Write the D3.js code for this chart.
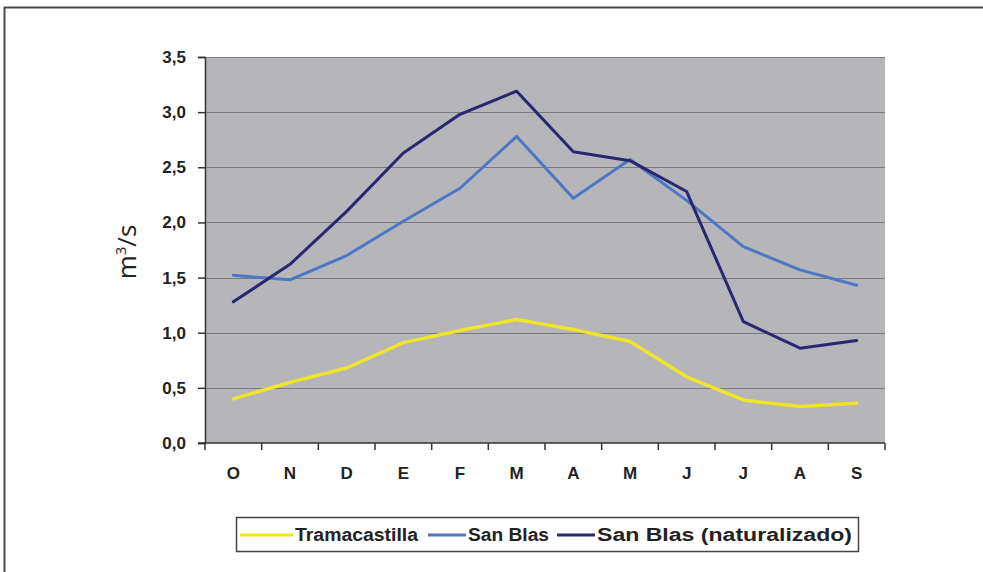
<!DOCTYPE html>
<html>
<head>
<meta charset="utf-8">
<script src="https://cdn.jsdelivr.net/npm/d3@7"></script>
<style>
  html, body { margin: 0; padding: 0; background: #fff; }
  svg { display: block; }
</style>
</head>
<body>
<svg id="chart" width="983" height="572"></svg>
<script>
// Hydrological-year months (October to September)
const months = ["O", "N", "D", "E", "F", "M", "A", "M", "J", "J", "A", "S"];
// Mean monthly flow, m³/s
const tramacastilla = [0.40, 0.55, 0.68, 0.91, 1.02, 1.12, 1.03, 0.92, 0.60, 0.39, 0.33, 0.36];
const sanBlas = [1.52, 1.48, 1.70, 2.01, 2.31, 2.78, 2.22, 2.57, 2.20, 1.78, 1.57, 1.43];
const sanBlasNat = [1.28, 1.62, 2.10, 2.63, 2.98, 3.19, 2.64, 2.56, 2.28, 1.10, 0.86, 0.93];
const seriesNames = ["Tramacastilla", "San Blas", "San Blas (naturalizado)"];
const yTicks = [0, 0.5, 1, 1.5, 2, 2.5, 3, 3.5];

const series = [
  { name: seriesNames[0], values: tramacastilla, color: "#efe62c" },
  { name: seriesNames[1], values: sanBlas, color: "#4e76c2" },
  { name: seriesNames[2], values: sanBlasNat, color: "#29276e" }
];

const svg = d3.select("#chart");
const plot = { left: 205, right: 885, top: 57, bottom: 443 };
const labelFont = "Liberation Sans, Arial, sans-serif";

// Frame along the top and left edges
svg.append("line").attr("x1", 4).attr("x2", 983).attr("y1", 7.5).attr("y2", 7.5)
  .attr("stroke", "#4a4a4a").attr("stroke-width", 2);
svg.append("line").attr("x1", 4.5).attr("x2", 4.5).attr("y1", 7).attr("y2", 572)
  .attr("stroke", "#4a4a4a").attr("stroke-width", 2);

const x = d3.scaleBand().domain(d3.range(months.length)).range([plot.left, plot.right]);
const y = d3.scaleLinear().domain([0, 3.5]).range([plot.bottom, plot.top]);

// Plot background
svg.append("rect")
  .attr("x", plot.left).attr("y", plot.top)
  .attr("width", plot.right - plot.left).attr("height", plot.bottom - plot.top)
  .attr("fill", "#b6b6ba");

// Horizontal gridlines
svg.append("g").selectAll("line").data(yTicks.slice(1)).join("line")
  .attr("x1", plot.left).attr("x2", plot.right)
  .attr("y1", d => Math.round(y(d)) + 0.5).attr("y2", d => Math.round(y(d)) + 0.5)
  .attr("stroke", "#7c7c80").attr("stroke-width", 1.2);

// Y axis
const fmt = d => d.toFixed(1).replace(".", ",");
const yAxis = svg.append("g").attr("transform", `translate(${plot.left},0)`)
  .call(d3.axisLeft(y).tickValues(yTicks).tickFormat(fmt).tickSize(7).tickPadding(12));
yAxis.select(".domain").attr("stroke", "#333").attr("stroke-width", 1.5);
yAxis.selectAll(".tick line").attr("stroke", "#333").attr("stroke-width", 1.5);
yAxis.selectAll("text")
  .attr("font-family", labelFont)
  .attr("font-size", 17).attr("font-weight", "bold").attr("fill", "#222");

// X axis: ticks on band boundaries, labels centred in bands
const xAxisG = svg.append("g");
xAxisG.append("line").attr("x1", plot.left - 7).attr("x2", plot.right)
  .attr("y1", plot.bottom).attr("y2", plot.bottom)
  .attr("stroke", "#333").attr("stroke-width", 1.5);
xAxisG.selectAll("line.tk").data(d3.range(months.length + 1)).join("line")
  .attr("class", "tk")
  .attr("x1", i => plot.left + i * x.step()).attr("x2", i => plot.left + i * x.step())
  .attr("y1", plot.bottom).attr("y2", plot.bottom + 7)
  .attr("stroke", "#333").attr("stroke-width", 1.5);
xAxisG.selectAll("text").data(months).join("text")
  .attr("x", (d, i) => x(i) + x.bandwidth() / 2)
  .attr("y", 479)
  .attr("text-anchor", "middle")
  .attr("font-family", labelFont)
  .attr("font-size", 17).attr("font-weight", "bold").attr("fill", "#222")
  .text(d => d);

// Y axis title
svg.append("text")
  .attr("transform", "translate(136,252) rotate(-90)")
  .attr("text-anchor", "middle")
  .attr("font-family", "Open Sans, DejaVu Sans, sans-serif")
  .attr("font-size", 26).attr("fill", "#222")
  .html('m<tspan dy="-10" font-size="15">3</tspan><tspan dy="10">/s</tspan>');

// Series lines
const line = d3.line()
  .x((d, i) => x(i) + x.bandwidth() / 2)
  .y(d => y(d));
svg.append("g").selectAll("path").data(series).join("path")
  .attr("d", s => line(s.values))
  .attr("fill", "none")
  .attr("stroke", s => s.color)
  .attr("stroke-width", (s, i) => i === 0 ? 3.5 : 3)
  .attr("stroke-linejoin", "round")
  .attr("stroke-linecap", "round");

// Legend
const lg = svg.append("g");
lg.append("rect").attr("x", 236.5).attr("y", 517.5).attr("width", 622).attr("height", 34)
  .attr("fill", "#fff").attr("stroke", "#444").attr("stroke-width", 1.5);
const legendItems = [
  { x: 240, tx: 295, w: 123 },
  { x: 428, tx: 468, w: 81 },
  { x: 557, tx: 597, w: 255 }
];
series.forEach((s, i) => {
  const it = legendItems[i];
  lg.append("line").attr("x1", it.x).attr("x2", it.tx - 2).attr("y1", 535).attr("y2", 535)
    .attr("stroke", s.color).attr("stroke-width", 3);
  lg.append("text").attr("x", it.tx).attr("y", 541)
    .attr("font-family", labelFont)
    .attr("font-size", 18).attr("font-weight", "bold").attr("fill", "#222")
    .attr("textLength", it.w).attr("lengthAdjust", "spacingAndGlyphs")
    .text(s.name);
});
</script>
</body>
</html>
